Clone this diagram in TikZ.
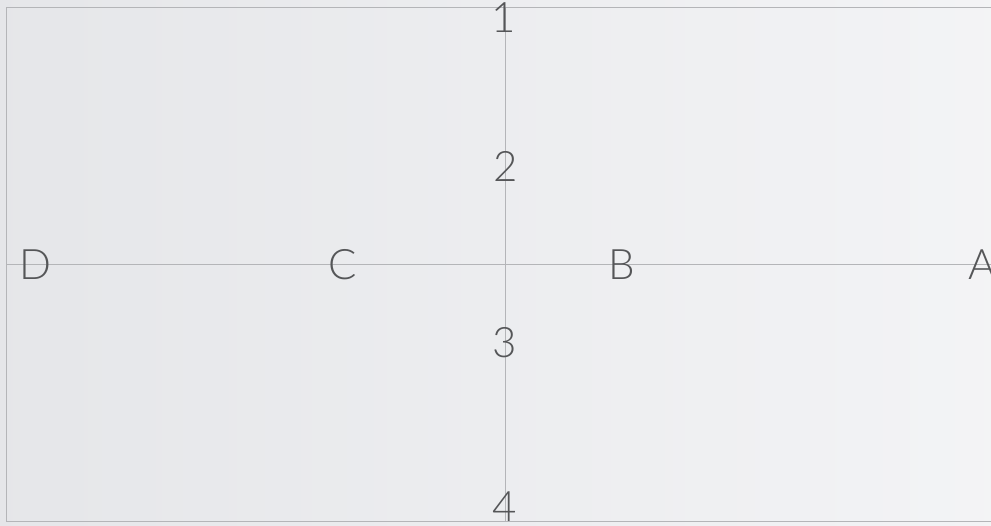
\documentclass[tikz,border=0pt]{standalone}
\usepackage{fontspec}
\setmainfont{Lato Light}
\definecolor{bgpaper}{HTML}{EBECEF}
\definecolor{axisgray}{HTML}{B4B5B8}
\definecolor{inkgray}{HTML}{555658}
\begin{document}
\begin{tikzpicture}[x=1pt,y=-1pt]
\tikzstyle{axis} = [draw=axisgray,line width=0.8pt]
\tikzstyle{mark} = []
\tikzstyle{lbl} = [text=inkgray,font=\fontsize{42}{42}\selectfont,inner sep=0pt,anchor=base]

\useasboundingbox (0,0) rectangle (991,526);
\clip (0,0) rectangle (991,526);
\shade[left color=bgpaper!96!black!60!bgpaper,right color=bgpaper!60!white] (0,0) rectangle (991,526);

\draw[axis] (6,7) rectangle (1000,521);

\coordinate (top) at (505,7);
\coordinate (bottom) at (505,521);
\coordinate (left) at (6,264);
\coordinate (right) at (991,264);

\draw[axis] (top) -- (bottom);
\draw[axis] (left) -- (right);

\node[lbl] (one) at (504,33) {1};
\node[lbl] (two) at (506,182) {2};
\node[lbl] (three) at (505,358) {3};
\node[lbl] (four) at (505,521) {4};

\node[lbl] (d) at (35,280) {D};
\node[lbl] (c) at (343,280) {C};
\node[lbl] (b) at (622,280) {B};
\node[lbl] (a) at (982,280) {A};

\end{tikzpicture}
\end{document}
